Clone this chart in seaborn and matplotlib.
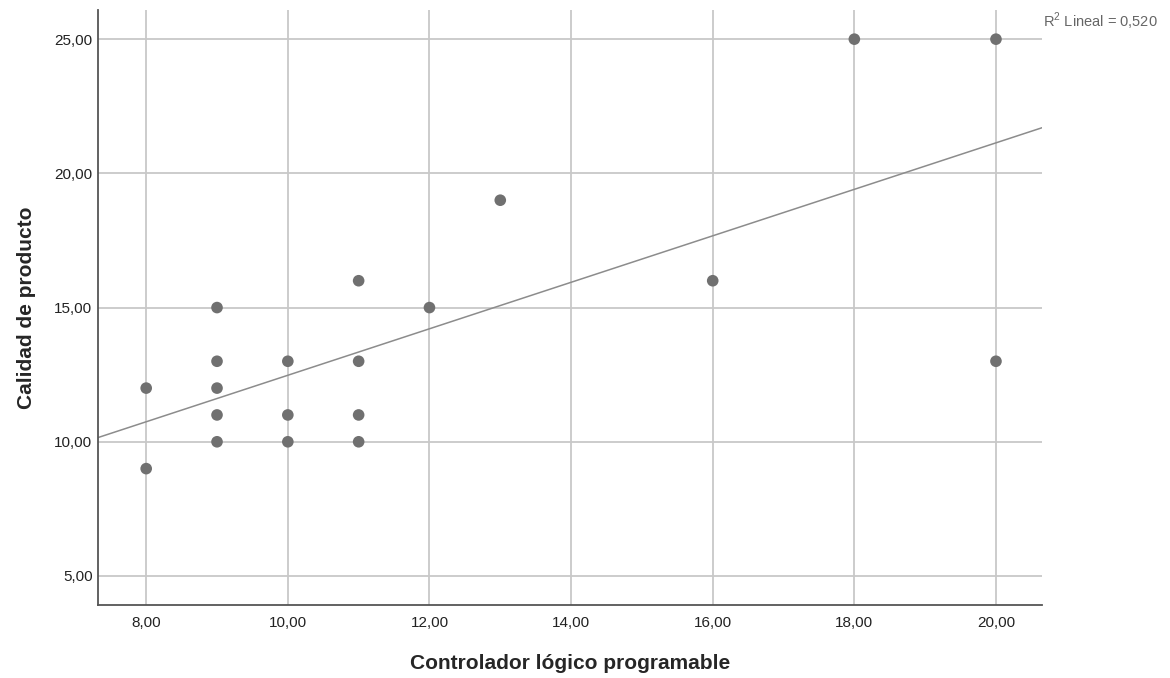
import matplotlib
matplotlib.use("Agg")
import matplotlib.pyplot as plt
import seaborn as sns
import numpy as np
import pandas as pd

x_vals = [8, 8, 9, 9, 9, 9, 9, 10, 10, 10, 11, 11, 11, 11, 12, 13, 16, 18, 20, 20]
y_vals = [12, 9, 15, 13, 12, 11, 10, 13, 11, 10, 16, 13, 11, 10, 15, 19, 16, 25, 25, 13]
x_ticks = [8, 10, 12, 14, 16, 18, 20]
y_ticks = [5, 10, 15, 20, 25]
x_label = "Controlador lógico programable"
y_label = "Calidad de producto"
r2_text = "R$^2$ Lineal = 0,520"

df = pd.DataFrame({"x": x_vals, "y": y_vals})

sns.set_style("white")
plt.rcParams['font.family'] = ['Liberation Sans', 'DejaVu Sans']
plt.rcParams['mathtext.fontset'] = 'custom'
plt.rcParams['mathtext.rm'] = 'Liberation Sans'

fig = plt.figure(figsize=(11.7, 6.78), dpi=100)
ax = fig.add_axes([0.0838, 0.1077, 0.8068, 0.8773])
ax.set_xlim(7.32, 20.65)
ax.set_ylim(3.92, 26.08)

for t in x_ticks:
    ax.axvline(t, color="#c8c8c8", lw=1.3, zorder=0)
for t in y_ticks:
    ax.axhline(t, color="#c8c8c8", lw=1.3, zorder=0)

sns.regplot(data=df, x="x", y="y", ax=ax, ci=None, truncate=False,
            scatter_kws=dict(s=70, color="#707070", edgecolor="none", zorder=3, alpha=1),
            line_kws=dict(color="#8c8c8c", lw=1.1, zorder=2))
ax.set_xlim(7.32, 20.65)
ax.set_ylim(3.92, 26.08)

ax.set_xticks(x_ticks)
ax.set_yticks(y_ticks)
ax.set_xticklabels([f"{t:.2f}".replace(".", ",") for t in x_ticks])
ax.set_yticklabels([f"{t:.2f}".replace(".", ",") for t in y_ticks])
ax.tick_params(axis="both", length=0, labelsize=11, colors="#222222")
ax.tick_params(axis="x", pad=8)
ax.tick_params(axis="y", pad=4)

for s in ["top", "right"]:
    ax.spines[s].set_visible(False)
for s in ["left", "bottom"]:
    ax.spines[s].set_color("#555555")
    ax.spines[s].set_linewidth(1.3)

ax.set_xlabel(x_label, fontsize=15, fontweight="bold", labelpad=17)
ax.set_ylabel(y_label, fontsize=15, fontweight="bold", labelpad=13)

fig.text(1043 / 1170, 1 - 21 / 678, r2_text, fontsize=10.5, color="#666666",
         ha="left", va="center")

fig.savefig("out.png", dpi=100)
